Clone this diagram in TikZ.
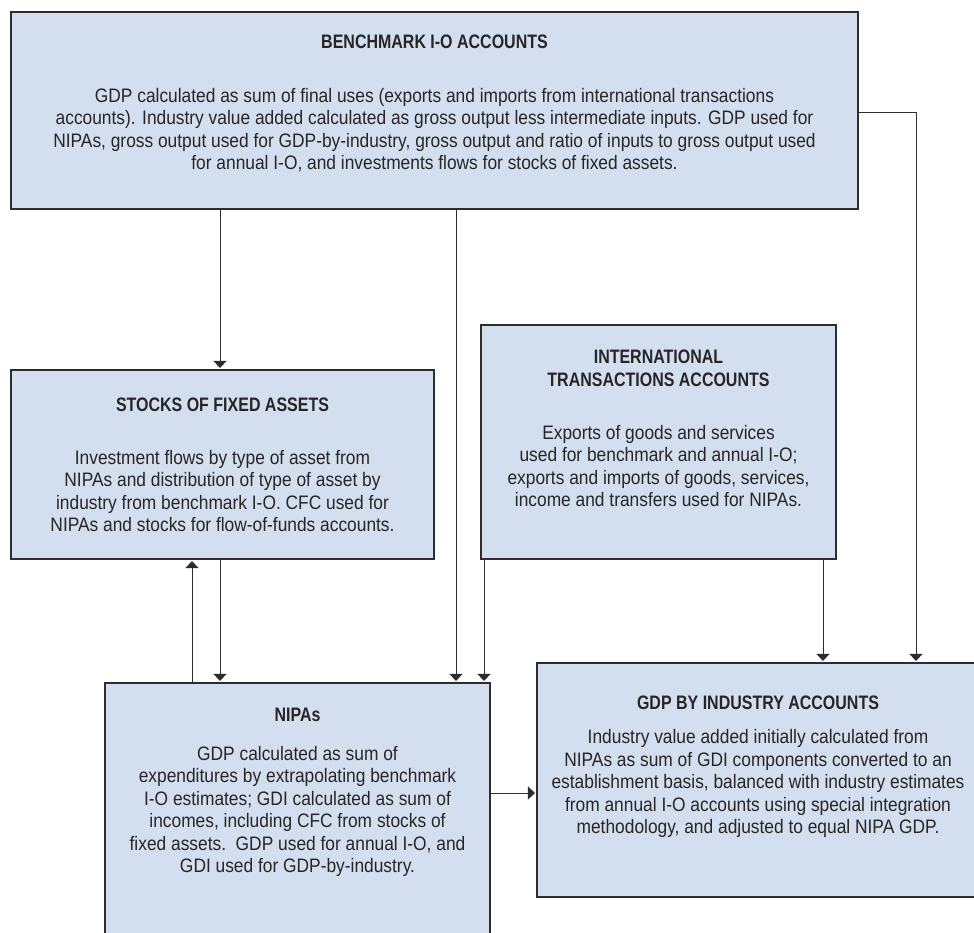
\documentclass[tikz,border=0pt]{standalone}
\usepackage{fontspec}
\setmainfont{Liberation Sans}[FakeStretch=0.89,BoldFeatures={FakeStretch=0.82}]
\usetikzlibrary{arrows.meta,calc}
\definecolor{boxblue}{RGB}{211,222,239}
\definecolor{linegray}{RGB}{45,45,45}

\begin{document}
\begin{tikzpicture}[x=1pt,y=-1pt,>={Triangle[width=13pt,length=7pt]},font=\fontsize{19.5}{22.5}\selectfont]
\tikzstyle{box}=[draw=linegray,line width=1.1pt,fill=boxblue,inner sep=0pt]
\tikzstyle{ttl}=[font=\fontsize{19.5}{23}\selectfont\bfseries,align=center,text=black!85]
\tikzstyle{txt}=[align=center,text=black!85,inner sep=0pt]
\tikzstyle{flow}=[->,line width=1pt,draw=linegray,shorten >=1.5pt]
\useasboundingbox (0,0) rectangle (974,932);
\clip (0,0) rectangle (974,932);
\node[box,minimum width=847pt,minimum height=197pt] (bench) at (434.5,110.5) {};
\node[box,minimum width=423pt,minimum height=189pt] (stocks) at (222.5,464.5) {};
\node[box,minimum width=355pt,minimum height=234pt] (intl) at (658.5,442) {};
\node[box,minimum width=385pt,minimum height=277pt] (nipa) at (297.5,821.5) {};
\node[box,minimum width=442pt,minimum height=234pt] (gdp) at (758,780) {};
\node[ttl] (bencht) at (434.5,42) {BENCHMARK I-O ACCOUNTS};
\node[txt] (benchx) at (434.5,130) {GDP calculated as sum of final uses (exports and imports from international transactions\\ accounts). Industry value added calculated as gross output less intermediate inputs. GDP used for\\ NIPAs, gross output used for GDP-by-industry, gross output and ratio of inputs to gross output used\\ for annual I-O, and investments flows for stocks of fixed assets.};
\node[ttl] (stockst) at (222.5,405) {STOCKS OF FIXED ASSETS};
\node[txt] (stocksx) at (222.5,491) {Investment flows by type of asset from\\ NIPAs and distribution of type of asset by\\ industry from benchmark I-O. CFC used for\\ NIPAs and stocks for flow-of-funds accounts.};
\node[ttl] (intlt) at (658.5,368.5) {INTERNATIONAL\\ TRANSACTIONS ACCOUNTS};
\node[txt] (intlx) at (658.5,466) {Exports of goods and services\\ used for benchmark and annual I-O;\\ exports and imports of goods, services,\\ income and transfers used for NIPAs.};
\node[ttl] (nipat) at (297.5,715) {NIPAs};
\node[txt] (nipax) at (297.5,811.5) {GDP calculated as sum of\\ expenditures by extrapolating benchmark\\ I-O estimates; GDI calculated as sum of\\ incomes, including CFC from stocks of\\ fixed assets.\ \ GDP used for annual I-O, and\\ GDI used for GDP-by-industry.};
\node[ttl] (gdpt) at (758,703) {GDP BY INDUSTRY ACCOUNTS};
\node[txt] (gdpx) at (758,783.5) {Industry value added initially calculated from\\ NIPAs as sum of GDI components converted to an\\ establishment basis, balanced with industry estimates\\ from annual I-O accounts using special integration\\ methodology, and adjusted to equal NIPA GDP.};
\coordinate (c1) at (220,0); \coordinate (c2) at (456,0); \coordinate (c3) at (916,112); \coordinate (c4) at (192,0);
\coordinate (c5) at (484,0); \coordinate (c6) at (823,0); \coordinate (c7) at (0,793);
\draw[flow] (c1 |- bench.south) -- (c1 |- stocks.north);
\draw[flow] (c2 |- bench.south) -- (c2 |- nipa.north);
\draw[flow] (c3 -| bench.east) -- (c3) -- (c3 |- gdp.north);
\draw[flow] (c1 |- stocks.south) -- (c1 |- nipa.north);
\draw[flow] (c4 |- nipa.north) -- (c4 |- stocks.south);
\draw[flow] (c5 |- intl.south) -- (c5 |- nipa.north);
\draw[flow] (c6 |- intl.south) -- (c6 |- gdp.north);
\draw[flow] (c7 -| nipa.east) -- (c7 -| gdp.west);
\end{tikzpicture}
\end{document}
